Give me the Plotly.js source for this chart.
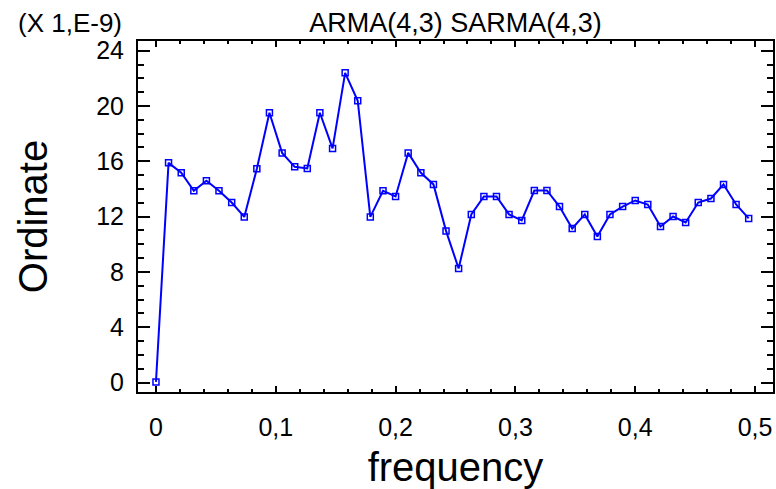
<!DOCTYPE html>
<html>
<head>
<meta charset="utf-8">
<script src="https://cdn.plot.ly/plotly-3.0.1.min.js"></script>
<style>html,body{margin:0;padding:0;background:#fff;}#chart{width:776px;height:489px;}</style>
</head>
<body>
<div id="chart"></div>
<script>
// frequency values
const frequency = [0, 0.0105, 0.0211, 0.0316, 0.0421, 0.0526, 0.0632, 0.0737, 0.0842, 0.0947,
  0.1053, 0.1158, 0.1263, 0.1368, 0.1474, 0.1579, 0.1684, 0.1789, 0.1895, 0.2,
  0.2105, 0.2211, 0.2316, 0.2421, 0.2526, 0.2632, 0.2737, 0.2842, 0.2947, 0.3053,
  0.3158, 0.3263, 0.3368, 0.3474, 0.3579, 0.3684, 0.3789, 0.3895, 0.4, 0.4105,
  0.4211, 0.4316, 0.4421, 0.4526, 0.4632, 0.4737, 0.4842, 0.4947];
// ordinate values in units of 1E-9
const ordinate = [0.05, 15.89, 15.17, 13.87, 14.59, 13.87, 13.02, 11.98, 15.46, 19.51,
  16.61, 15.60, 15.48, 19.51, 16.93, 22.40, 20.38, 11.98, 13.87, 13.46,
  16.61, 15.17, 14.33, 10.97, 8.25, 12.16, 13.46, 13.46, 12.16, 11.72,
  13.89, 13.89, 12.73, 11.14, 12.16, 10.56, 12.16, 12.73, 13.17, 12.88,
  11.29, 12.01, 11.58, 13.02, 13.31, 14.33, 12.88, 11.87];
const titleText = "ARMA(4,3) SARMA(4,3)";
const xTitle = "frequency";
const yTitle = "Ordinate";
const scaleNote = "(X 1,E-9)";

const FONT = "Liberation Sans, Arial, sans-serif";

const trace = {
  x: frequency, y: ordinate, type: "scatter", mode: "lines+markers",
  line: {color: "#0000ff", width: 2},
  marker: {symbol: "square-open", size: 6, color: "#0000ff", line: {width: 1.5, color: "#0000ff"}},
  hoverinfo: "skip"
};

const layout = {
  width: 776, height: 489,
  margin: {l: 138, r: 3, t: 41, b: 97},
  paper_bgcolor: "#fff", plot_bgcolor: "#fff",
  separators: ",.",
  showlegend: false,
  font: {family: FONT, color: "#000", size: 25},
  title: {text: titleText, font: {family: FONT, size: 27, color: "#000"},
          xref: "paper", x: 0.5, xanchor: "center", y: 1 - 23/489, yanchor: "middle"},
  xaxis: {
    range: [-0.015, 0.515], dtick: 0.1, tick0: 0,
    ticks: "inside", ticklen: 6, tickwidth: 2, tickcolor: "#000",
    showline: true, linecolor: "#000", linewidth: 2, mirror: "ticks",
    showgrid: false, zeroline: false,
    tickfont: {family: FONT, size: 25, color: "#000"},
    ticklabelstandoff: 12,
    minor: {dtick: 0.02, ticks: "inside", ticklen: 3, tickwidth: 2, tickcolor: "#000", showgrid: false},
    title: {text: xTitle, font: {family: FONT, size: 40, color: "#000"}, standoff: 20}
  },
  yaxis: {
    range: [-0.68, 24.7], dtick: 4, tick0: 0,
    ticks: "inside", ticklen: 12, tickwidth: 2, tickcolor: "#000",
    showline: true, linecolor: "#000", linewidth: 2, mirror: "ticks",
    showgrid: false, zeroline: false,
    tickfont: {family: FONT, size: 25, color: "#000"},
    ticklabelstandoff: 7,
    minor: {dtick: 1, ticks: "inside", ticklen: 6, tickwidth: 2, tickcolor: "#000", showgrid: false},
    title: {text: yTitle, font: {family: FONT, size: 40, color: "#000"}, standoff: 36}
  },
  annotations: [{
    text: scaleNote, xref: "paper", yref: "paper", x: -0.022, y: 1,
    xanchor: "right", yanchor: "middle", yshift: 18, showarrow: false,
    font: {family: FONT, size: 26, color: "#000"}
  }]
};

Plotly.newPlot("chart", [trace], layout, {displayModeBar: false, staticPlot: true});
</script>
</body>
</html>
